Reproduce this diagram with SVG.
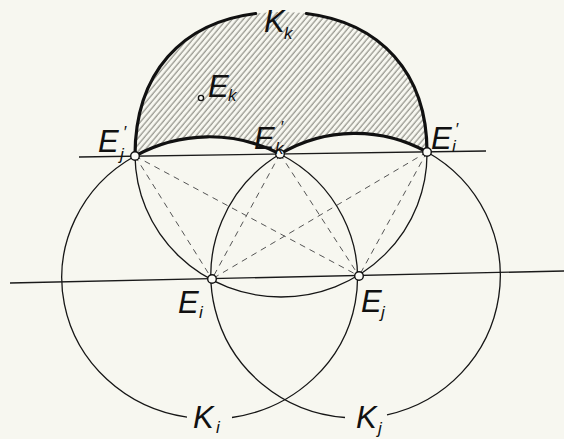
<svg xmlns="http://www.w3.org/2000/svg" width="564" height="439" viewBox="0 0 564 439">
<defs>
<style>
.thin{fill:none;stroke:#161616;stroke-width:1.3}
.thick{fill:none;stroke:#111;stroke-width:3.2;stroke-linecap:round}
.line{fill:none;stroke:#1a1a1a;stroke-width:1.4}
.dash{fill:none;stroke:#555;stroke-width:1;stroke-dasharray:6 5}
.pt{fill:#fbfbf6;stroke:#111;stroke-width:1.4}
.lbl{font-family:"Liberation Sans",Arial,sans-serif;font-style:italic;fill:#111}
.big{font-size:31px}
.sub{font-size:17px}
</style>
<pattern id="hatch" patternUnits="userSpaceOnUse" width="4.3" height="10" patternTransform="rotate(40)">
<line x1="1" y1="0" x2="1" y2="10" stroke="#7c7c74" stroke-width="1"/>
</pattern>
</defs>
<rect width="564" height="439" fill="#f7f7f0"/>
<g id="hatched-region">
<path d="M135,156 C135,63 193.4,12 281,12 C368.6,12 427,63 427,152 A145,142.5 0 0 0 280,154 A147.5,141 0 0 0 135,156 Z" fill="url(#hatch)"/>
</g>
<g id="connectors">
<path class="line" d="M79,157 L486,151"/>
<path class="line" d="M10,283 L564,271"/>
<path class="dash" d="M135,156 L212,279"/>
<path class="dash" d="M135,156 L359,276"/>
<path class="dash" d="M280,154 L212,279"/>
<path class="dash" d="M280,154 L359,276"/>
<path class="dash" d="M427,152 L212,279"/>
<path class="dash" d="M427,152 L359,276"/>
</g>
<g id="circle-Ki">
<path class="thin" d="M232,417.5 A147.5,141 0 0 0 280,154"/>
<path class="thick" d="M280,154 A147.5,141 0 0 0 135,156"/>
<path class="thin" d="M135,156 A147.5,141 0 0 0 187,417.2"/>
<text class="lbl big" x="193" y="428">K<tspan class="sub" x="216" y="433">i</tspan></text>
</g>
<g id="circle-Kj">
<path class="thin" d="M345,417.5 A145,142.5 0 0 1 280,154"/>
<path class="thick" d="M280,154 A145,142.5 0 0 1 427,152"/>
<path class="thin" d="M427,152 A145,142.5 0 0 1 387,414.9"/>
<text class="lbl big" x="356" y="428">K<tspan class="sub" x="378" y="434">j</tspan></text>
</g>
<g id="circle-Kk">
<path class="thin" d="M135,156 A146,143 0 0 0 281,297 A146,143 0 0 0 427,152"/>
<path class="thick" d="M135,156 C135,72.3 182.3,22.6 255.6,13.5"/>
<path class="thick" d="M427,152 C427,72.3 379.7,22.6 306.4,13.5"/>
<text class="lbl big" x="264" y="32">K<tspan class="sub" x="284" y="39">k</tspan></text>
</g>
<g id="point-Ek">
<circle cx="201" cy="98" r="2.6" class="pt" stroke-width="1"/>
<text class="lbl big" x="208" y="97">E<tspan class="sub" x="228" y="101">k</tspan></text>
</g>
<g id="point-Ej-prime">
<circle cx="135" cy="156" r="4.3" class="pt"/>
<text class="lbl big" x="98" y="152">E<tspan class="sub" x="123" y="138">′</tspan><tspan class="sub" x="120" y="160">j</tspan></text>
</g>
<g id="point-Ek-prime">
<circle cx="280" cy="154" r="4.3" class="pt"/>
<text class="lbl big" x="254" y="149">E<tspan class="sub" x="280" y="133">′</tspan><tspan class="sub" x="275" y="154">k</tspan></text>
</g>
<g id="point-Ei-prime">
<circle cx="427" cy="152" r="4.3" class="pt"/>
<text class="lbl big" x="431" y="149">E<tspan class="sub" x="455" y="135">′</tspan><tspan class="sub" x="452" y="152">i</tspan></text>
</g>
<g id="point-Ei">
<circle cx="212" cy="279" r="4.3" class="pt"/>
<text class="lbl big" x="178" y="313">E<tspan class="sub" x="199" y="318">i</tspan></text>
</g>
<g id="point-Ej">
<circle cx="359" cy="276" r="4.3" class="pt"/>
<text class="lbl big" x="361" y="312">E<tspan class="sub" x="381" y="318">j</tspan></text>
</g>
</svg>
